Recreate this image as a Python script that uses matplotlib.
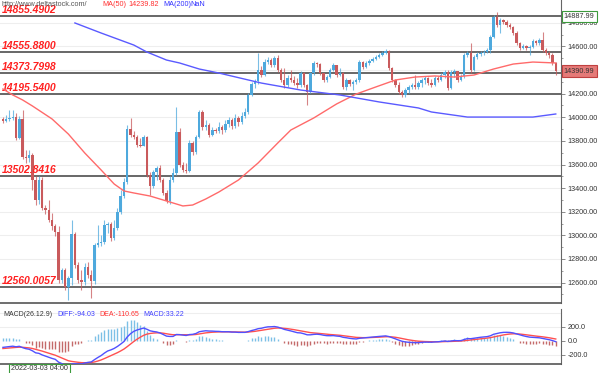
import numpy as np
import matplotlib
matplotlib.use("Agg")
import matplotlib.pyplot as plt
from matplotlib.transforms import blended_transform_factory

plt.rcParams['font.family'] = ['Liberation Sans', 'DejaVu Sans']

# Candles (open of each bar = previous close)
first_open = 13986
closes = [13969, 13986, 13994, 14002, 13825, 13986, 13664, 13655, 13681, 13469,
          13300, 13469, 13232, 13215, 13130, 13079, 13028, 12621, 12706, 12563,
          12639, 13011, 12749, 12621, 12605, 12732, 12664, 12613, 12918, 12935,
          12944, 13087, 13096, 12978, 13062, 13198, 13333, 13452, 13901, 13850,
          13833, 13765, 13760, 13833, 13511, 13418, 13537, 13571, 13469, 13359,
          13291, 13469, 13528, 13875, 13596, 13554, 13545, 13782, 13706, 13833,
          14045, 13918, 13935, 13850, 13892, 13884, 13918, 13892, 13943, 13977,
          13926, 13994, 13960, 14011, 14045, 14189, 14282, 14307, 14401, 14358,
          14468, 14485, 14443, 14502, 14401, 14316, 14274, 14333, 14316, 14290,
          14274, 14375, 14274, 14214, 14375, 14460, 14451, 14375, 14316, 14341,
          14401, 14443, 14358, 14375, 14257, 14316, 14282, 14299, 14316, 14468,
          14426, 14460, 14477, 14494, 14511, 14528, 14545, 14562, 14418, 14316,
          14274, 14214, 14189, 14231, 14257, 14274, 14257, 14290, 14316, 14333,
          14290, 14274, 14333, 14316, 14358, 14384, 14248, 14384, 14392, 14316,
          14350, 14528, 14545, 14401, 14511, 14536, 14545, 14553, 14570, 14680,
          14850, 14782, 14824, 14807, 14782, 14765, 14714, 14629, 14587, 14604,
          14587, 14595, 14646, 14629, 14655, 14570, 14545, 14528, 14460, 14390.99]
highs = [14002, 14019, 14062, 14062, 14036, 14011, 14062, 13723, 13723, 13698,
         13503, 13503, 13494, 13257, 13300, 13189, 13096, 13079, 12724, 12724,
         12656, 13130, 13028, 12774, 12706, 12766, 12774, 12706, 12935, 13087,
         13003, 13130, 13113, 13113, 13130, 13232, 13384, 13486, 13935, 13994,
         13884, 13850, 13825, 13850, 13842, 13537, 13554, 13587, 13596, 13486,
         13384, 13503, 13571, 14087, 13909, 13621, 13613, 13808, 13799, 13850,
         14062, 14062, 13977, 13952, 13918, 13909, 13960, 13935, 13977, 14002,
         13994, 14028, 14011, 14045, 14079, 14206, 14299, 14324, 14545, 14434,
         14494, 14511, 14502, 14519, 14528, 14418, 14418, 14358, 14401, 14350,
         14333, 14392, 14384, 14282, 14384, 14477, 14468, 14460, 14375, 14358,
         14418, 14460, 14443, 14418, 14384, 14333, 14324, 14316, 14333, 14485,
         14477, 14477, 14494, 14511, 14528, 14545, 14562, 14578, 14570, 14426,
         14324, 14299, 14231, 14248, 14274, 14290, 14358, 14307, 14333, 14350,
         14341, 14324, 14350, 14350, 14375, 14401, 14401, 14401, 14409, 14392,
         14367, 14545, 14562, 14629, 14528, 14553, 14562, 14570, 14587, 14697,
         14866, 14887.99, 14841, 14833, 14824, 14799, 14773, 14731, 14638, 14621,
         14612, 14612, 14663, 14655, 14672, 14722, 14587, 14562, 14545, 14468]
lows = [13952, 13960, 13969, 13977, 13808, 13816, 13647, 13613, 13621, 13384,
        13257, 13266, 13215, 13181, 13113, 13045, 12995, 12596, 12596, 12537,
        12452, 12579, 12724, 12596, 12537, 12579, 12639, 12469, 12588, 12901,
        12910, 12927, 13020, 12952, 12960, 13045, 13181, 13316, 13435, 13833,
        13816, 13748, 13748, 13757, 13494, 13342, 13401, 13469, 13452, 13342,
        13274, 13266, 13452, 13511, 13579, 13537, 13528, 13537, 13681, 13689,
        13825, 13892, 13892, 13833, 13842, 13867, 13867, 13858, 13875, 13918,
        13901, 13909, 13926, 13943, 13994, 14028, 14180, 14248, 14282, 14341,
        14350, 14451, 14426, 14426, 14384, 14299, 14248, 14257, 14299, 14274,
        14248, 14257, 14257, 14104, 14206, 14358, 14426, 14358, 14299, 14299,
        14333, 14392, 14341, 14350, 14240, 14231, 14265, 14231, 14282, 14299,
        14409, 14418, 14443, 14468, 14485, 14502, 14519, 14536, 14401, 14299,
        14257, 14197, 14172, 14172, 14206, 14240, 14240, 14240, 14257, 14282,
        14274, 14257, 14265, 14299, 14307, 14333, 14231, 14240, 14341, 14299,
        14307, 14333, 14511, 14375, 14392, 14494, 14519, 14528, 14545, 14545,
        14672, 14765, 14714, 14790, 14765, 14748, 14697, 14612, 14570, 14578,
        14570, 14528, 14587, 14612, 14612, 14553, 14528, 14502, 14443, 14358]

# Moving averages (bar index, value)
ma50_idx = [0, 3, 6, 9, 15, 20, 25, 30, 34, 37, 40, 45, 50, 55, 58, 62, 66, 72,
            78, 84, 88, 95, 102, 108, 114, 120, 126, 132, 138, 144, 150, 156, 162, 169]
ma50_val = [14239.82, 14189, 14147, 14096, 13986, 13858, 13698, 13554, 13435, 13376,
            13359, 13333, 13291, 13249, 13257, 13308, 13367, 13469, 13613, 13782,
            13892, 13994, 14113, 14197, 14257, 14316, 14341, 14350, 14341, 14358,
            14409, 14451, 14468, 14460]
ma200_idx = [22, 30, 40, 44, 50, 54, 60, 66, 79, 91, 103, 115, 127, 131, 142, 152, 162, 169]
ma200_val = [14799, 14714, 14612, 14553, 14485, 14460, 14409, 14375, 14290, 14231,
             14189, 14130, 14079, 14045, 14002, 14002, 14002, 14028]

levels = [14855.4902, 14555.8800, 14373.7998, 14195.5400, 13502.8416, 12560.0057]
level_labels = ['14855.4902', '14555.8800', '14373.7998', '14195.5400', '13502.8416', '12560.0057']

# MACD state at the first bar
ema12_start = 14010
diff_start = -94.03
dea_start = -110.65

closes = np.array(closes, dtype=float)
highs = np.array(highs, dtype=float)
lows = np.array(lows, dtype=float)
opens = np.r_[first_open, closes[:-1]]
x = np.arange(len(closes))
up = closes >= opens

# MACD(26,12,9)
ema12 = np.zeros(len(closes))
ema26 = np.zeros(len(closes))
dea = np.zeros(len(closes))
ema12[0] = ema12_start
ema26[0] = ema12_start - diff_start
dea[0] = dea_start
for i in range(1, len(closes)):
    ema12[i] = ema12[i-1] + 2 / 13 * (closes[i] - ema12[i-1])
    ema26[i] = ema26[i-1] + 2 / 27 * (closes[i] - ema26[i-1])
    dea[i] = dea[i-1] + 2 / 10 * ((ema12[i] - ema26[i]) - dea[i-1])
diff = ema12 - ema26
hist = 2 * (diff - dea)

BLUE = '#4ea9dd'
RED = '#c95a5c'
W, H = 600, 373

fig = plt.figure(figsize=(6, 3.73), dpi=100)
ax = fig.add_axes([0, 1 - 303 / H, 561 / W, 303 / H])
axm = fig.add_axes([0, 9 / H, 561 / W, 55 / H])

# --- price panel ---
ax.set_xlim(-0.9, 170.6)
ax.set_ylim(12427, 14993.5)
ax.set_yticks(np.arange(12600, 14801, 200))
ax.set_yticks(np.arange(12500, 14901, 100), minor=True)
ax.grid(axis='y', color='#eeeeee', lw=0.8, zorder=0)
ax.set_xticks([])
ax.yaxis.tick_right()
ax.yaxis.set_major_formatter(matplotlib.ticker.FormatStrFormatter('%.2f'))
ax.tick_params(axis='y', which='major', labelsize=5.2, labelcolor='#333333',
               color='#777777', length=3, width=0.6, pad=1.5)
ax.tick_params(axis='y', which='minor', color='#777777', length=1.5, width=0.5)
for s in ['top', 'left']:
    ax.spines[s].set_visible(False)
ax.spines['right'].set_color('#666666')
ax.spines['bottom'].set_color('#555555')
ax.spines['bottom'].set_linewidth(1.2)

for lv, lab in zip(levels, level_labels):
    ax.axhline(lv, color='#5c5c5c', lw=1.3, zorder=2)
    ax.text(-0.4, lv + 25, lab, color='#ff2020', fontsize=7.5, fontweight='bold',
            style='italic', ha='left', va='baseline', zorder=5)

colors = np.where(up, BLUE, RED)
ax.vlines(x, lows, highs, colors=colors, lw=0.8, alpha=0.75, zorder=3)
body_lo = np.minimum(opens, closes)
body_h = np.maximum(np.abs(closes - opens), 5)
ax.bar(x, body_h, bottom=body_lo, width=0.74, color=colors, lw=0, zorder=4)

ax.plot(ma50_idx, ma50_val, color='#ff6a6a', lw=1.0, zorder=5)
ax.plot(ma200_idx, ma200_val, color='#5a5aff', lw=1.0, zorder=5)

bt = blended_transform_factory(ax.transAxes, ax.transData)
ax.text(1.005, highs.max() - 35, '%.2f' % highs.max(), transform=bt, fontsize=5.2,
        color='#333333', va='center', ha='left', clip_on=False, zorder=6,
        bbox=dict(boxstyle='square,pad=0.3', fc='white', ec='#3c9a3c', lw=0.8))
ax.text(1.005, closes[-1], '%.2f' % closes[-1], transform=bt, fontsize=5.2,
        color='#333333', va='center', ha='left', clip_on=False, zorder=6,
        bbox=dict(boxstyle='square,pad=0.3', fc='#e57a78', ec='#c04040', lw=0.8))

# header
fig.text(2 / W, 1 - 5 / H, 'http://www.deltastock.com/', fontsize=5.2, color='#555555', va='center')
fig.text(102 / W, 1 - 5 / H, 'MA(50)', fontsize=5.2, color='#ff3030', va='center')
fig.text(128 / W, 1 - 5 / H, '14239.82', fontsize=5.2, color='#ff3030', va='center')
fig.text(163 / W, 1 - 5 / H, 'MA(200)', fontsize=5.2, color='#3030ff', va='center')
fig.text(190 / W, 1 - 5 / H, 'NaN', fontsize=5.2, color='#3030ff', va='center')

# --- MACD panel ---
axm.set_xlim(-0.9, 170.6)
axm.set_ylim(-330, 450)
axm.set_yticks([-200, 0, 200])
axm.yaxis.tick_right()
axm.yaxis.set_major_formatter(matplotlib.ticker.FormatStrFormatter('%.1f'))
axm.tick_params(axis='y', labelsize=5.2, labelcolor='#333333', color='#777777',
                length=3, width=0.6, pad=1.5)
axm.set_xticks([])
for g in [-200, 200, 400]:
    axm.axhline(g, color='#eeeeee', lw=0.8, zorder=0)
for s in ['top', 'left']:
    axm.spines[s].set_visible(False)
axm.spines['right'].set_color('#666666')
axm.spines['bottom'].set_color('#555555')
axm.spines['bottom'].set_linewidth(1.2)

hcol = np.where(hist >= 0, '#7cc0e6', '#c46a6a')
axm.vlines(x, 0, hist, colors=hcol, lw=1.0, zorder=2)
axm.plot(x, dea, color='#ff5050', lw=1.0, zorder=3)
axm.plot(x, diff, color='#5050ff', lw=1.0, zorder=4)

ty = 1 - 315 / H
fig.text(3 / W, ty, 'MACD(26.12.9)', fontsize=5, color='#333333', va='center')
fig.text(57 / W, ty, 'DIFF:-94.03', fontsize=5, color='#4040ff', va='center')
fig.text(99 / W, ty, 'DEA:-110.65', fontsize=5, color='#ff3030', va='center')
fig.text(143 / W, ty, 'MACD:33.22', fontsize=5, color='#4040ff', va='center')

fig.text(11 / W, 1 - 369 / H, '2022-03-03 04:00', fontsize=5.2, color='#333333', va='center',
         bbox=dict(boxstyle='square,pad=0.25', fc='white', ec='#3c9a3c', lw=0.8))

fig.savefig('out.png', dpi=100)
